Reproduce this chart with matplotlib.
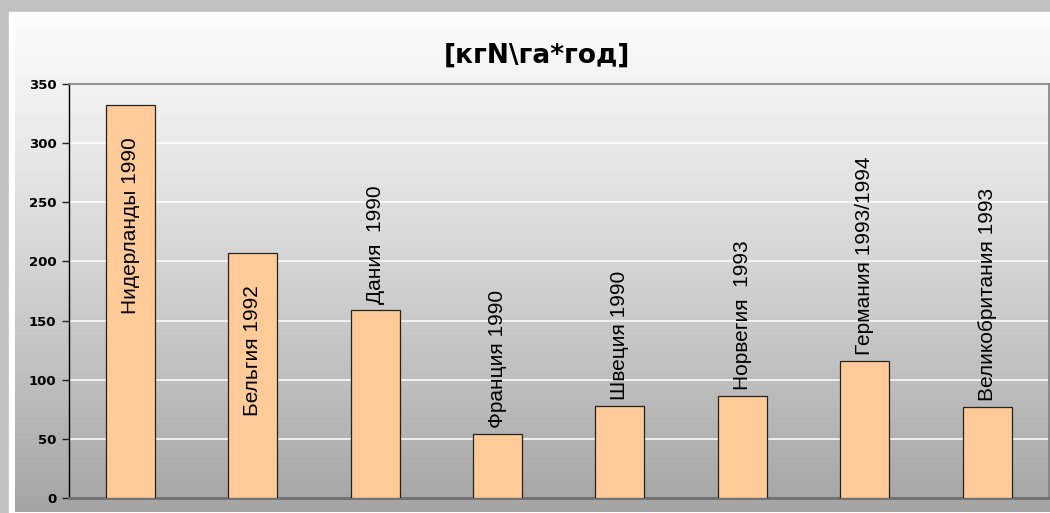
import numpy as np
import matplotlib
matplotlib.use("Agg")
import matplotlib.pyplot as plt
from matplotlib.patches import Rectangle

# data
countries = ["Нидерланды 1990", "Бельгия 1992", "Дания  1990", "Франция 1990",
             "Швеция 1990", "Норвегия  1993", "Германия 1993/1994",
             "Великобритания 1993"]
values = [332, 207, 159, 54, 78, 86, 116, 77]
inside = [True, True, False, False, False, False, False, False]
title = "[кгN\\га*год]"
yticks = [0, 50, 100, 150, 200, 250, 300, 350]

W, H = 1050, 513
fig = plt.figure(figsize=(W / 100, H / 100), dpi=100)
fig.patch.set_facecolor("#c0c0c0")

# background: white frame + vertical gradient panel
bg = fig.add_axes([0, 0, 1, 1], zorder=-10)
bg.add_patch(Rectangle((9, 12), W, H, color="white", zorder=1))
grad = np.linspace(0, 1, 256)[:, None] ** 1.15
cols = np.array([0.985, 0.985, 0.985])[None, :] * (1 - grad) + \
    np.array([0.645, 0.645, 0.645])[None, :] * grad
img = np.repeat(cols[:, None, :], 2, axis=1)
bg.imshow(img, extent=(15, W, 512, 16), aspect="auto",
          interpolation="bilinear", zorder=2)
bg.set_xlim(0, W)
bg.set_ylim(H, 0)
bg.axis("off")

# plot area in pixel coords
left, right, top, bottom = 69, 1048.5, 84, 498
ax = fig.add_axes([left / W, 1 - bottom / H, (right - left) / W, (bottom - top) / H])
ax.set_facecolor("none")

x = np.arange(len(countries))
ax.bar(x, values, width=0.4, color="#ffcc99", edgecolor="#222222", linewidth=0.9, zorder=3)
ax.set_xlim(-0.5, len(countries) - 0.5)
ax.set_ylim(0, 350)
ax.set_yticks(yticks)
ax.set_yticklabels([str(t) for t in yticks], fontsize=9.5, fontweight="bold",
                   family="DejaVu Sans")
ax.set_xticks([])
ax.tick_params(axis="y", length=5, width=1, color="#222222", pad=4)
for t in yticks[1:-1]:
    ax.axhline(t, color="white", linewidth=1.1, zorder=1)

ax.spines["left"].set_color("black")
ax.spines["left"].set_linewidth(1.0)
ax.spines["top"].set_color("#808080")
ax.spines["top"].set_linewidth(1.2)
ax.spines["right"].set_color("#808080")
ax.spines["right"].set_linewidth(1.2)
ax.spines["bottom"].set_color("#707070")
ax.spines["bottom"].set_linewidth(2)

fam = ["Liberation Sans", "DejaVu Sans"]
for xi, v, name, ins in zip(x, values, countries, inside):
    if ins:
        ax.text(xi, v - 27, name, rotation=90, ha="center", va="top",
                fontsize=15, family=fam, zorder=4)
    else:
        ax.text(xi, v + 5, name, rotation=90, ha="center", va="bottom",
                fontsize=15, family=fam, zorder=4)

fig.text(537 / W, 1 - 56 / H, title, ha="center", va="center", fontsize=19,
         fontweight="bold", family="DejaVu Sans")

fig.savefig("out.png", dpi=100, facecolor=fig.get_facecolor())
